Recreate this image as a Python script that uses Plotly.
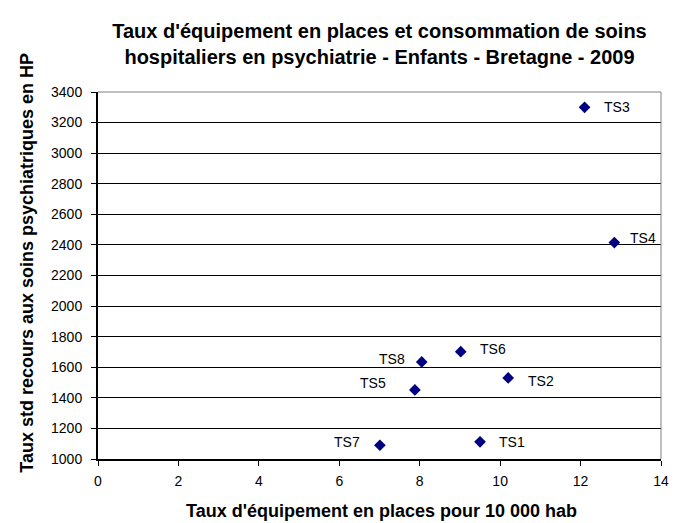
import plotly.graph_objects as go

labels = ["TS1", "TS2", "TS3", "TS4", "TS5", "TS6", "TS7", "TS8"]
equipement = [9.50, 10.20, 12.10, 12.84, 7.88, 9.02, 7.01, 8.05]
recours = [1112, 1530, 3300, 2415, 1452, 1702, 1090, 1635]
# label placement (side, xshift px, yshift px)
label_side = ["right", "right", "right", "right", "left", "right", "left", "left"]
label_dx = [17, 18, 17, 14, -27, 17, -18, -15]
label_dy = [0, -3, 0, 5, 7, 3, 3, 3]

y_ticks = list(range(1000, 3401, 200))
x_ticks = list(range(0, 15, 2))

FONT = "Liberation Sans, Arial, sans-serif"

fig = go.Figure()
fig.add_trace(go.Scatter(
    x=equipement, y=recours, mode="markers",
    marker=dict(symbol="diamond", size=9, color="#000080"),
    hoverinfo="skip", showlegend=False,
))

annotations = []
for lab, xv, yv, side, dx, dy in zip(labels, equipement, recours, label_side, label_dx, label_dy):
    annotations.append(dict(
        x=xv, y=yv, xref="x", yref="y", text=lab, showarrow=False,
        xanchor="left" if side == "right" else "right", yanchor="middle",
        xshift=dx, yshift=dy, font=dict(family=FONT, size=14, color="black"),
    ))

annotations.append(dict(
    x=-0.126, y=0.535, xref="paper", yref="paper", showarrow=False,
    text="<b>Taux std recours aux soins psychiatriques en HP</b>", textangle=-90,
    xanchor="center", yanchor="middle", font=dict(family=FONT, size=18, color="black"),
))
annotations.append(dict(
    x=0.503, y=-0.143, xref="paper", yref="paper", showarrow=False,
    text="<b>Taux d'équipement en places pour 10 000 hab</b>",
    xanchor="center", yanchor="middle", font=dict(family=FONT, size=18, color="black"),
))

fig.update_layout(
    width=677, height=515,
    margin=dict(l=90, r=24, t=84, b=64),
    paper_bgcolor="white", plot_bgcolor="white",
    font=dict(family=FONT, size=14, color="black"),
    title=dict(
        text="<b>Taux d'équipement en places et consommation de soins<br>hospitaliers en psychiatrie - Enfants - Bretagne - 2009</b>",
        x=0.5, xref="paper", xanchor="center",
        y=1 - 30 / 515, yref="container", yanchor="middle",
        font=dict(family=FONT, size=20, color="black"),
    ),
    annotations=annotations,
    shapes=[
        dict(type="line", xref="paper", yref="paper", x0=0, x1=1, y0=1, y1=1,
             line=dict(color="#808080", width=1), layer="above"),
        dict(type="line", xref="paper", yref="paper", x0=1, x1=1, y0=0, y1=1,
             line=dict(color="#808080", width=1), layer="above"),
    ],
)

fig.update_xaxes(
    range=[0, 14], tickvals=x_ticks, ticktext=[str(v) for v in x_ticks],
    showgrid=False, zeroline=False,
    showline=True, linecolor="black", linewidth=2,
    ticks="outside", ticklen=5, tickcolor="black", ticklabelstandoff=3,
    tickfont=dict(family=FONT, size=14, color="black"),
)
fig.update_yaxes(
    range=[1000, 3400], tickvals=y_ticks, ticktext=[str(v) for v in y_ticks],
    showgrid=True, gridcolor="black", gridwidth=1, zeroline=False,
    showline=True, linecolor="black", linewidth=2,
    ticks="outside", ticklen=5, tickcolor="black", ticklabelstandoff=6,
    tickfont=dict(family=FONT, size=14, color="black"),
)

fig.write_html("out.html")
